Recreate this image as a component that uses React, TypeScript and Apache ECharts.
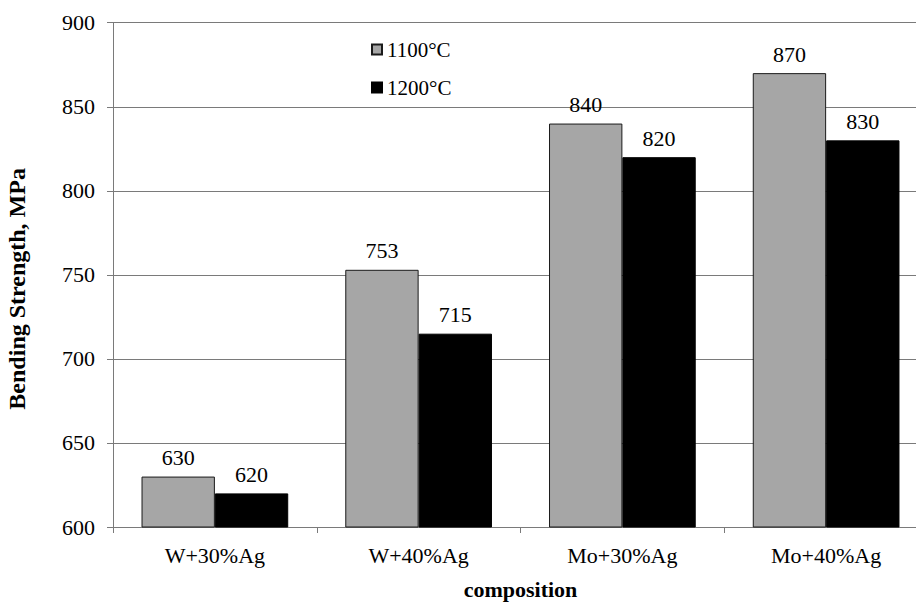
import React, { useEffect, useRef } from "react";
import * as echarts from "echarts";

const categories = ["W+30%Ag", "W+40%Ag", "Mo+30%Ag", "Mo+40%Ag"];
const series1100 = [630, 753, 840, 870];
const series1200 = [620, 715, 820, 830];
const seriesNames = ["1100°C", "1200°C"];
const yTicks = [600, 650, 700, 750, 800, 850, 900];

const FONT = "'Liberation Serif', 'Times New Roman', serif";

export default function App() {
  const ref = useRef<HTMLDivElement>(null);
  useEffect(() => {
    if (!ref.current) return;
    const chart = echarts.init(ref.current, undefined, { renderer: "svg" });
    const label = {
      show: true,
      position: "top",
      distance: 8,
      fontFamily: FONT,
      fontSize: 22,
      color: "#000",
    };
    chart.setOption({
      animation: false,
      backgroundColor: "#fff",
      textStyle: { fontFamily: FONT },
      legend: {
        orient: "vertical",
        left: 366,
        top: 34,
        itemWidth: 10,
        itemHeight: 10,
        itemGap: 17,
        icon: "rect",
        textStyle: { fontFamily: FONT, fontSize: 21, color: "#000" },
        data: seriesNames,
      },
      grid: {
        left: 113,
        right: -12,
        top: 22.7,
        bottom: 77,
        containLabel: false,
        outerBoundsMode: "none",
      },
      xAxis: {
        type: "category",
        data: categories,
        name: "composition",
        nameLocation: "middle",
        nameGap: 51,
        nameTextStyle: { fontFamily: FONT, fontSize: 22, fontWeight: "bold", color: "#000" },
        axisLine: { lineStyle: { color: "#7a7a7a", width: 1 } },
        axisTick: { show: true, length: 6, lineStyle: { color: "#7a7a7a" } },
        axisLabel: { fontFamily: FONT, fontSize: 22, color: "#000", margin: 17 },
      },
      yAxis: {
        type: "value",
        min: yTicks[0],
        max: yTicks[yTicks.length - 1],
        interval: 50,
        name: "Bending Strength, MPa",
        nameLocation: "middle",
        nameGap: 84,
        nameTextStyle: {
          fontFamily: FONT,
          fontSize: 24,
          fontWeight: "bold",
          color: "#000",
          padding: [0, 28, 0, 0],
        },
        axisLine: { show: true, lineStyle: { color: "#7a7a7a", width: 1 } },
        axisTick: { show: true, length: 6, lineStyle: { color: "#7a7a7a" } },
        axisLabel: { fontFamily: FONT, fontSize: 22, color: "#000", margin: 18 },
        splitLine: { show: true, lineStyle: { color: "#7a7a7a", width: 1 } },
      },
      series: [
        {
          name: seriesNames[0],
          type: "bar",
          data: series1100,
          barGap: "0%",
          barCategoryGap: "28%",
          itemStyle: { color: "#a6a6a6", borderColor: "#1a1a1a", borderWidth: 1 },
          label,
        },
        {
          name: seriesNames[1],
          type: "bar",
          data: series1200,
          barGap: "0%",
          barCategoryGap: "28%",
          itemStyle: { color: "#000", borderColor: "#000", borderWidth: 1 },
          label,
        },
      ],
    });
    return () => chart.dispose();
  }, []);
  return (
    <div
      ref={ref}
      style={{ position: "fixed", left: 0, top: 0, width: 916, height: 604, background: "#fff" }}
    />
  );
}
